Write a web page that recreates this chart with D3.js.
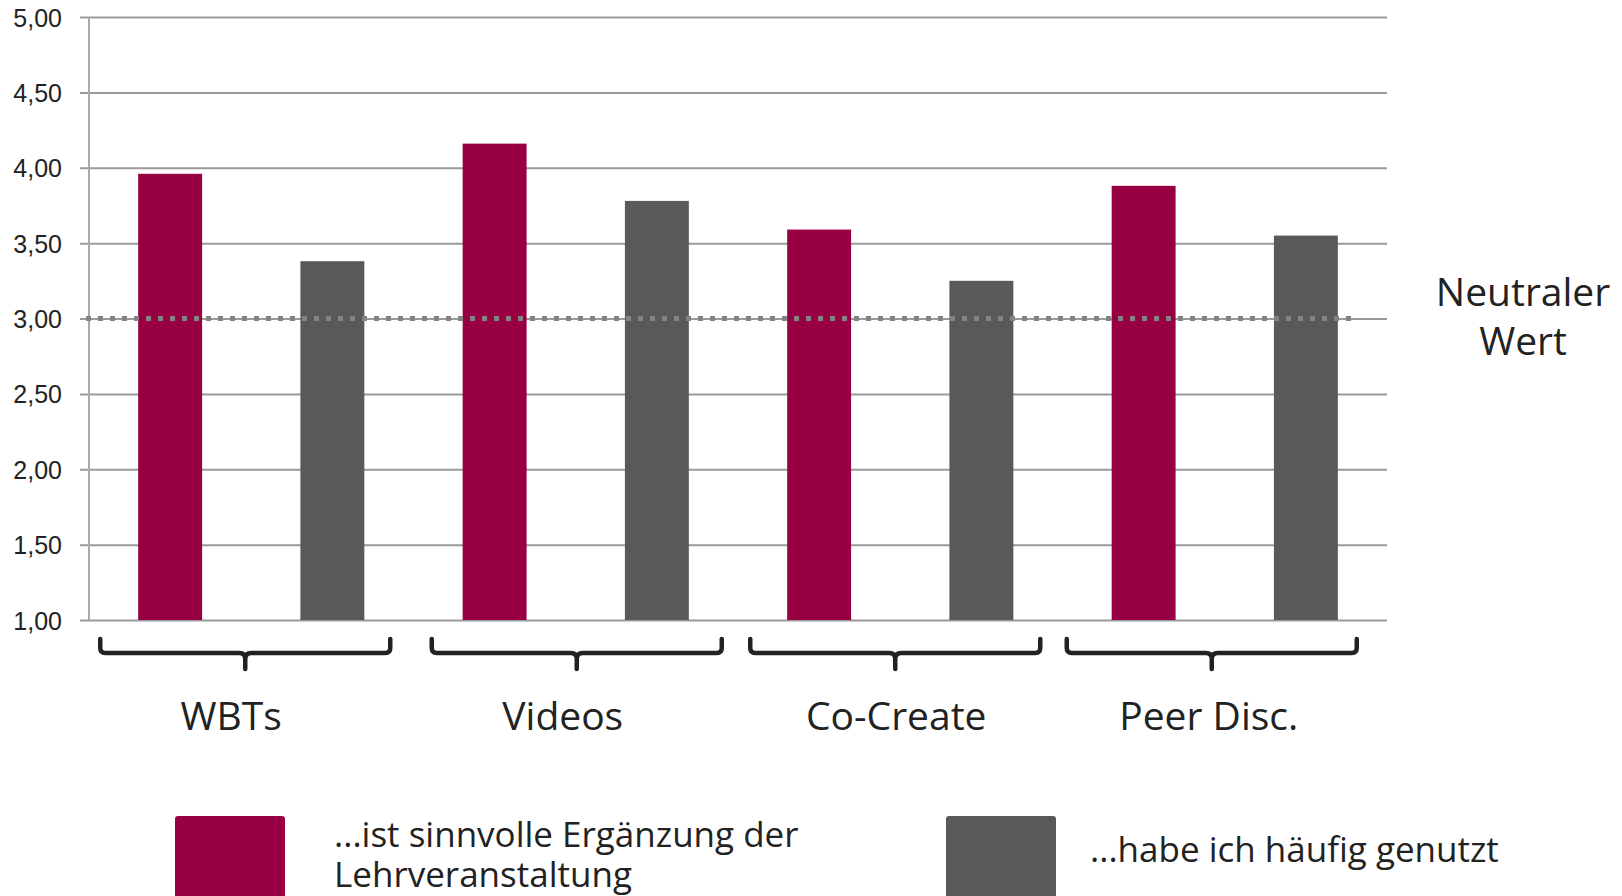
<!DOCTYPE html>
<html>
<head>
<meta charset="utf-8">
<script src="https://cdn.jsdelivr.net/npm/d3@7"></script>
<style>
  html, body { margin: 0; padding: 0; background: #fff; }
  svg { display: block; font-family: "Open Sans", "Noto Sans", sans-serif; }
</style>
</head>
<body>
<svg id="chart" width="1622" height="896"></svg>
<script>
// ---- data ----
const categories = ["WBTs", "Videos", "Co-Create", "Peer Disc."];
const seriesNames = ["...ist sinnvolle Ergänzung der Lehrveranstaltung", "...habe ich häufig genutzt"];
const sinnvoll = [3.96, 4.16, 3.59, 3.88];
const genutzt = [3.38, 3.78, 3.25, 3.55];
const yTicks = [1.0, 1.5, 2.0, 2.5, 3.0, 3.5, 4.0, 4.5, 5.0];
const neutralValue = 3.0;
const neutralLabel = ["Neutraler", "Wert"];

// ---- layout ----
const W = 1622, H = 896;
const plot = { left: 89, right: 1387, top: 17, bottom: 620 };
const colors = ["#990044", "#595959"];
const textColor = "#222222";
// hand-placed decorations in the original: small shifts from group centres
const braceShifts = [-6, 1, -5, -13];
const labelShifts = [-20, -13, -4, -16];

const svg = d3.select("#chart");

const y = d3.scaleLinear().domain([1, 5]).range([plot.bottom, plot.top]);
const x0 = d3.scaleBand().domain(categories).range([plot.left, plot.right]).padding(0);
const x1 = d3.scaleBand().domain([0, 1]).range([0, x0.bandwidth()])
  .paddingInner(0.606).paddingOuter(0.303);

// gridlines + tick labels
const tickLen = plot.right - 80;
const yAxis = d3.axisLeft(y)
  .tickValues(yTicks)
  .tickSize(tickLen)
  .tickPadding(18)
  .tickFormat(d => d3.format(".2f")(d).replace(".", ","));

const gAxis = svg.append("g")
  .attr("transform", `translate(${plot.right},0)`)
  .call(yAxis);
gAxis.select(".domain").remove();
gAxis.selectAll(".tick line").attr("stroke", "#9a9a9a").attr("stroke-width", 2);
gAxis.selectAll(".tick text")
  .attr("fill", textColor)
  .style("font-size", "25px")
  .attr("dy", "0.36em");

// vertical axis line
svg.append("line")
  .attr("x1", plot.left).attr("x2", plot.left)
  .attr("y1", y(5)).attr("y2", y(1))
  .attr("stroke", "#aaaaaa").attr("stroke-width", 2);

// bars
const rows = categories.map((c, i) => ({ cat: c, vals: [sinnvoll[i], genutzt[i]] }));
const groups = svg.append("g").selectAll("g")
  .data(rows).join("g")
  .attr("transform", d => `translate(${x0(d.cat)},0)`);

groups.selectAll("rect")
  .data(d => d.vals.map((v, k) => ({ k, v })))
  .join("rect")
  .attr("x", d => x1(d.k))
  .attr("width", x1.bandwidth())
  .attr("y", d => y(d.v))
  .attr("height", d => y(1) - y(d.v))
  .attr("fill", d => colors[d.k]);

// neutral dotted line
svg.append("line")
  .attr("x1", 86).attr("x2", 1352)
  .attr("y1", y(neutralValue)).attr("y2", y(neutralValue))
  .attr("stroke", "#838383")
  .attr("stroke-width", 5)
  .attr("stroke-dasharray", "5,7");

// neutral label
const nl = svg.append("text")
  .attr("x", 1523)
  .attr("y", y(neutralValue) - 13)
  .attr("text-anchor", "middle")
  .attr("fill", textColor)
  .style("font-size", "39px");
nl.selectAll("tspan").data(neutralLabel).join("tspan")
  .attr("x", 1523)
  .attr("dy", (d, i) => i === 0 ? 0 : 49)
  .text(d => d);

// braces
const hw = 145;
const braceTop = 639, braceLine = 653, braceTip = 669;
function bracePath(cx) {
  return `M${cx - hw},${braceTop} L${cx - hw},${braceLine - 5} Q${cx - hw},${braceLine} ${cx - hw + 5},${braceLine}`
    + ` L${cx - 6},${braceLine} Q${cx},${braceLine} ${cx},${braceLine + 6} L${cx},${braceTip}`
    + ` M${cx},${braceLine + 6} Q${cx},${braceLine} ${cx + 6},${braceLine}`
    + ` L${cx + hw - 5},${braceLine} Q${cx + hw},${braceLine} ${cx + hw},${braceLine - 5} L${cx + hw},${braceTop}`;
}
svg.append("g").selectAll("path")
  .data(categories).join("path")
  .attr("d", (d, i) => bracePath(x0(d) + x0.bandwidth() / 2 + braceShifts[i]))
  .attr("fill", "none")
  .attr("stroke", textColor)
  .attr("stroke-width", 4.5)
  .attr("stroke-linecap", "round")
  .attr("stroke-linejoin", "round");

// category labels
svg.append("g").selectAll("text")
  .data(categories).join("text")
  .attr("x", (d, i) => x0(d) + x0.bandwidth() / 2 + labelShifts[i])
  .attr("y", 730)
  .attr("text-anchor", "middle")
  .attr("fill", textColor)
  .style("font-size", "39px")
  .text(d => d);

// legend
const legendItems = [
  { x: 175, textX: 334, lines: ["...ist sinnvolle Ergänzung der", "Lehrveranstaltung"], baseline: 847 },
  { x: 946, textX: 1090, lines: ["...habe ich häufig genutzt"], baseline: 862 }
];
const lg = svg.append("g").selectAll("g").data(legendItems).join("g");
lg.append("rect")
  .attr("x", d => d.x).attr("y", 816)
  .attr("width", 110).attr("height", 110)
  .attr("rx", 3)
  .attr("fill", (d, i) => colors[i]);
lg.each(function(d) {
  const g = d3.select(this);
  d.lines.forEach((t, i) => {
    g.append("text")
      .attr("x", d.textX)
      .attr("y", d.baseline + i * 40)
      .attr("fill", textColor)
      .style("font-size", "35px")
      .text(t);
  });
});
</script>
</body>
</html>
